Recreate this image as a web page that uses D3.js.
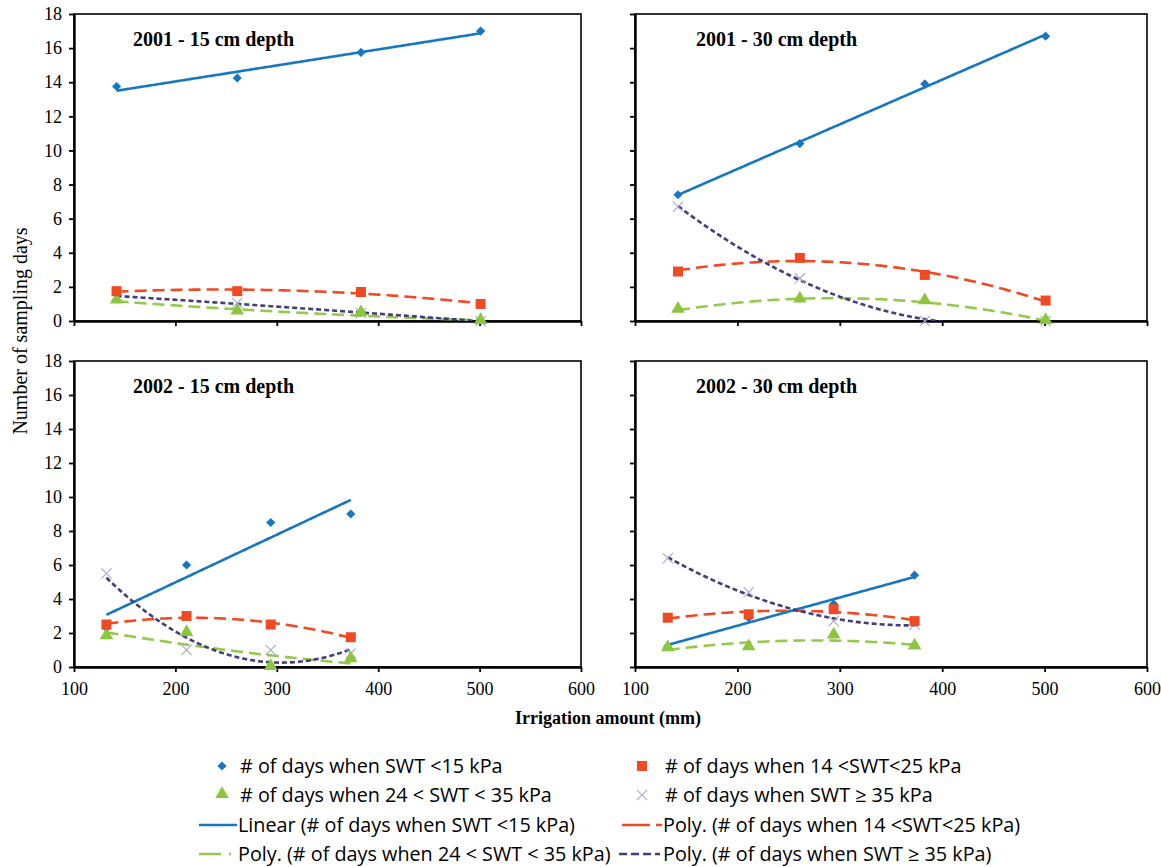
<!DOCTYPE html>
<html>
<head>
<meta charset="utf-8">
<script src="https://cdn.jsdelivr.net/npm/d3@7"></script>
<style>
  body { margin: 0; background: #fff; }
  svg { display: block; }
</style>
</head>
<body>
<div class="canvas"></div>
<script>
// irrigation amounts (mm) per year
const irr2001 = [142, 261, 383, 501];
const irr2002 = [132, 211, 294, 373];

// # of days when SWT < 15 kPa
const below15_2001_15 = [13.75, 14.25, 15.75, 17];
const below15_2001_30 = [7.4, 10.4, 13.9, 16.7];
const below15_2002_15 = [2.3, 6, 8.5, 9];
const below15_2002_30 = [1.2, 2.9, 3.7, 5.4];

// # of days when 14 < SWT < 25 kPa
const mid25_2001_15 = [1.75, 1.75, 1.7, 1.0];
const mid25_2001_30 = [2.9, 3.7, 2.7, 1.2];
const mid25_2002_15 = [2.5, 3.0, 2.5, 1.75];
const mid25_2002_30 = [2.9, 3.1, 3.4, 2.7];

// # of days when 24 < SWT < 35 kPa
const mid35_2001_15 = [1.2, 0.55, 0.45, 0];
const mid35_2001_30 = [0.65, 1.25, 1.15, 0];
const mid35_2002_15 = [1.8, 2.0, 0, 0.45];
const mid35_2002_30 = [1.1, 1.15, 1.85, 1.2];

// # of days when SWT >= 35 kPa
const over35_2001_15 = [1.45, 1.05, 0.45, 0];
const over35_2001_30 = [6.7, 2.5, 0, 0];
const over35_2002_15 = [5.5, 1.0, 1.0, 0.8];
const over35_2002_30 = [6.4, 4.4, 2.7, 2.5];

const panelTitles = ['2001 - 15 cm depth', '2001 - 30 cm depth', '2002 - 15 cm depth', '2002 - 30 cm depth'];
const xTicks = [100, 200, 300, 400, 500, 600];
const yTicks = [0, 2, 4, 6, 8, 10, 12, 14, 16, 18];

const markerLabels = ['# of days when SWT <15 kPa', '# of days when 14 <SWT<25 kPa',
                      '# of days when 24 < SWT < 35 kPa', '# of days when SWT \u2265 35 kPa'];
const trendLabels = ['Linear (# of days when SWT <15 kPa)', 'Poly. (# of days when 14 <SWT<25 kPa)',
                     'Poly. (# of days when 24 < SWT < 35 kPa)', 'Poly. (# of days when SWT \u2265 35 kPa)'];

const serif = '"Liberation Serif", "Times New Roman", serif';
const sans = '"Open Sans", Roboto, sans-serif';

const col = {
  blue: '#1677c0', red: '#f04a24', green: '#8cc63f', greenLine: '#93c94f',
  purple: '#423d7e', cross: '#a7a8cc'
};

const svg = d3.select('.canvas')
  .append('svg')
  .attr('width', 1161)
  .attr('height', 867);

// least squares polynomial fit (like Excel trendlines)
const polyfit = (xs, ys, deg) => {
  const m = d3.mean(xs);
  const ts = xs.map(v => (v - m) / 100);
  const n = deg + 1;
  const A = d3.range(n).map(i => d3.range(n + 1).map(j =>
    j < n ? d3.sum(ts, t => Math.pow(t, i + j)) : d3.sum(ts, (t, k) => Math.pow(t, i) * ys[k])));
  for (let i = 0; i < n; i++) {
    for (let r = i + 1; r < n; r++) {
      const f = A[r][i] / A[i][i];
      for (let c = i; c <= n; c++) A[r][c] -= f * A[i][c];
    }
  }
  const coef = new Array(n).fill(0);
  for (let i = n - 1; i >= 0; i--) {
    let s = A[i][n];
    for (let c = i + 1; c < n; c++) s -= A[i][c] * coef[c];
    coef[i] = s / A[i][i];
  }
  return v => { const t = (v - m) / 100; return coef.reduce((acc, c, i) => acc + c * Math.pow(t, i), 0); };
};

// panel frames
const cols = [[74, 581], [635, 1147]];
const rows = [[14, 321], [361, 667]];

const panels = [
  { title: panelTitles[0], xs: irr2001, s: [below15_2001_15, mid25_2001_15, mid35_2001_15, over35_2001_15], c: 0, r: 0 },
  { title: panelTitles[1], xs: irr2001, s: [below15_2001_30, mid25_2001_30, mid35_2001_30, over35_2001_30], c: 1, r: 0 },
  { title: panelTitles[2], xs: irr2002, s: [below15_2002_15, mid25_2002_15, mid35_2002_15, over35_2002_15], c: 0, r: 1 },
  { title: panelTitles[3], xs: irr2002, s: [below15_2002_30, mid25_2002_30, mid35_2002_30, over35_2002_30], c: 1, r: 1 }
];

// trendline styles: linear for first series, 2nd order poly for the rest
const trendStyle = [
  { deg: 1, color: col.blue, dash: null },
  { deg: 2, color: col.red, dash: '12,6' },
  { deg: 2, color: col.greenLine, dash: '12,6' },
  { deg: 2, color: col.purple, dash: '5,3' }
];

const diamond = d3.symbol().type(d3.symbolSquare).size(42)();
const square = d3.symbol().type(d3.symbolSquare).size(100)();
const triangle = d3.symbol().type(d3.symbolTriangle).size(80)();
const cross = d3.symbol().type(d3.symbolTimes).size(70)();

const drawMarker = (g, k, px, py) => {
  if (k === 0) {
    g.append('path').attr('d', diamond).attr('transform', `translate(${px},${py}) rotate(45)`).attr('fill', col.blue);
  } else if (k === 1) {
    g.append('path').attr('d', square).attr('transform', `translate(${px},${py})`).attr('fill', col.red);
  } else if (k === 2) {
    g.append('path').attr('d', triangle).attr('transform', `translate(${px},${py - 1})`).attr('fill', col.green);
  } else {
    g.append('path').attr('d', cross).attr('transform', `translate(${px},${py})`)
      .attr('fill', 'none').attr('stroke', col.cross).attr('stroke-width', 1.1);
  }
};

panels.forEach((p, pi) => {
  const [left, right] = cols[p.c];
  const [top, bottom] = rows[p.r];
  const x = d3.scaleLinear().domain([100, 600]).range([left, right]);
  const y = d3.scaleLinear().domain([0, 18]).range([bottom, top]);
  const g = svg.append('g');

  g.append('clipPath').attr('id', 'clip' + pi)
    .append('rect').attr('x', left).attr('y', top).attr('width', right - left).attr('height', bottom - top);

  // frame
  g.append('rect')
    .attr('x', left).attr('y', top)
    .attr('width', right - left).attr('height', bottom - top)
    .attr('fill', 'none').attr('stroke', '#000').attr('stroke-width', 1.6);

  // axes
  const xAxis = d3.axisBottom(x).tickValues(xTicks).tickSize(5).tickSizeOuter(0).tickPadding(10)
    .tickFormat(p.r === 1 ? d3.format('d') : '');
  const yAxis = d3.axisLeft(y).tickValues(yTicks).tickSize(5).tickSizeOuter(0).tickPadding(7)
    .tickFormat(p.c === 0 ? d3.format('d') : '');

  [g.append('g').attr('transform', `translate(0,${bottom})`).call(xAxis),
   g.append('g').attr('transform', `translate(${left},0)`).call(yAxis)].forEach(a => {
    a.attr('font-family', serif).attr('font-size', 18);
    a.select('.domain').attr('stroke-width', 2.4);
    a.selectAll('.tick line').attr('stroke-width', 1.8);
    a.selectAll('.tick text').attr('fill', '#000').style('font-family', serif).style('font-size', '18px');
  });

  // title
  g.append('text')
    .attr('x', left + (p.c === 0 ? 59 : 61)).attr('y', top + 32)
    .attr('font-family', serif).attr('font-weight', 'bold').attr('font-size', 20)
    .text(p.title);

  const plot = g.append('g').attr('clip-path', `url(#clip${pi})`);

  // trendlines
  p.s.forEach((vals, k) => {
    const st = trendStyle[k];
    const f = polyfit(p.xs, vals, st.deg);
    const x0 = d3.min(p.xs), x1 = d3.max(p.xs);
    const pts = d3.range(x0, x1, 2).concat([x1]);
    plot.append('path')
      .datum(pts)
      .attr('d', d3.line().x(d => x(d)).y(d => y(f(d))))
      .attr('fill', 'none')
      .attr('stroke', st.color)
      .attr('stroke-width', 2.6)
      .attr('stroke-dasharray', st.dash);
  });

  // markers
  [3, 0, 2, 1].forEach(k => {
    p.s[k].forEach((v, i) => drawMarker(g, k, x(p.xs[i]), y(v)));
  });
});

// axis titles
svg.append('text')
  .attr('transform', 'translate(27,331) rotate(-90)')
  .attr('text-anchor', 'middle')
  .attr('font-family', serif).attr('font-size', 20)
  .text('Number of sampling days');

svg.append('text')
  .attr('x', 608).attr('y', 724)
  .attr('text-anchor', 'middle')
  .attr('font-family', serif).attr('font-weight', 'bold').attr('font-size', 18)
  .text('Irrigation amount (mm)');

// legend
const legend = svg.append('g').attr('font-family', sans).attr('font-size', 19.8).attr('fill', '#000');
const rowY = [766, 795, 825, 854];
const colMarkX = [222, 642];
const colTextX = [240, 665];

markerLabels.forEach((label, k) => {
  const c = k % 2, r = Math.floor(k / 2);
  drawMarker(legend, k, colMarkX[c], rowY[r]);
  legend.append('text').attr('x', colTextX[c]).attr('y', rowY[r] + 7).text(label);
});

const keyLines = [
  { x0: 199, x1: 237, dash: null },
  { x0: 622, x1: 662, dash: '28,6,6,20' },
  { x0: 199, x1: 232, dash: '22,8,2,10' },
  { x0: 619, x1: 660, dash: '8,4' }
];
trendLabels.forEach((label, k) => {
  const c = k % 2, r = 2 + Math.floor(k / 2);
  const kl = keyLines[k];
  legend.append('line')
    .attr('x1', kl.x0).attr('x2', kl.x1).attr('y1', rowY[r]).attr('y2', rowY[r])
    .attr('stroke', trendStyle[k].color).attr('stroke-width', 2.6)
    .attr('stroke-dasharray', kl.dash);
  legend.append('text')
    .attr('x', k === 2 ? 238 : colTextX[c] - 2).attr('y', rowY[r] + 7)
    .text(label);
});
</script>
</body>
</html>
